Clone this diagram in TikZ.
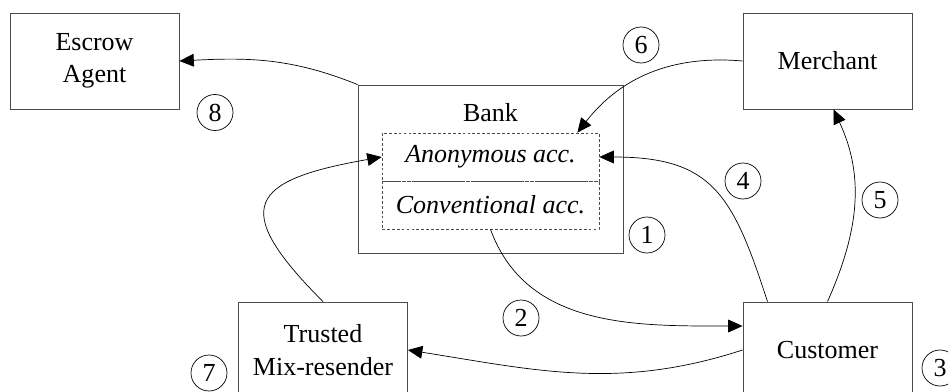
\documentclass[tikz,border=0pt]{standalone}
\usepackage{fontspec}
\setmainfont{Liberation Serif}
\usetikzlibrary{arrows.meta}
\newcommand{\diagfont}{\fontsize{18.5}{23}\selectfont}
\tikzset{
% Three node styles: parties, accounts inside the bank, circled step numbers
party node/.style={rectangle,draw=black!70,line width=0.6pt,minimum width=4.225cm,minimum height=2.4cm,align=center},
account node/.style={rectangle,draw=black!70,dash pattern=on 2pt off 1.5pt,line width=0.5pt,minimum width=5.425cm,minimum height=1.2cm,font=\diagfont\itshape},
step node/.style={circle,draw,line width=0.5pt,inner sep=0,minimum size=0.9cm},
flow/.style={-{Triangle[length=0.36cm,width=0.32cm]},line width=0.5pt}
}

\begin{document}
\begin{tikzpicture}[font=\diagfont]
\useasboundingbox (0,0) rectangle (23.7,9.775);
\clip (0,0) rectangle (23.7,9.775);
% The parties
\node(escrow)[party node] at (2.3625,8.25) {Escrow\\Agent};
\node(merchant)[party node] at (20.6875,8.25) {Merchant};
\node(trusted)[party node] at (8.075,1.025) {Trusted\\Mix-resender};
\node(customer)[party node] at (20.6875,1.025) {Customer};
% The bank and its two accounts
\node(bank)[party node,minimum width=6.625cm,minimum height=4.2cm] at (12.2625,5.55) {};
\node(bank label) at (12.2625,6.95) {Bank};
\node(anon)[account node] at (12.2625,5.85) {Anonymous acc.};
\node(conv)[account node] at (12.2625,4.65) {Conventional acc.};
% Step numbers
\node(s1)[step node] at (16.175,3.9) {1};
\node(s2)[step node] at (13.025,1.825) {2};
\node(s3)[step node] at (23.5,0.575) {3};
\node(s4)[step node] at (18.575,5.25) {4};
\node(s5)[step node] at (22.0,4.775) {5};
\node(s6)[step node] at (16.025,8.65) {6};
\node(s7)[step node] at (5.225,0.45) {7};
\node(s8)[step node] at (5.375,6.9625) {8};
% The flows
\draw[flow](conv.south) to[out=-70,in=180] ([yshift=0.6cm]customer.west);
\draw[flow](customer.west) to[out=198,in=-9] (trusted.east);
\draw[flow]([xshift=-1.5cm]customer.north) to[out=108,in=0,looseness=1.3] (anon.east);
\draw[flow](customer.north) to[out=66,in=-65] ([xshift=0.15cm]merchant.south);
\draw[flow](merchant.west) to[out=175,in=52] ([xshift=-0.55cm]anon.north east);
\draw[flow](trusted.north) to[out=135,in=190,looseness=2.2] (anon.west);
\draw[flow](bank.north west) to[out=158,in=3] (escrow.east);
\end{tikzpicture}
\end{document}
